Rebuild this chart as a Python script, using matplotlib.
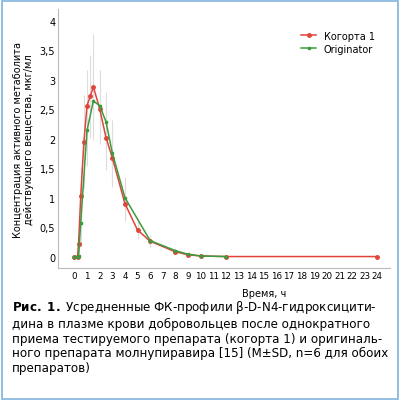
import numpy as np
import matplotlib.pyplot as plt
from matplotlib.patches import Rectangle

t_red = [0, 0.25, 0.33, 0.5, 0.75, 1, 1.25, 1.5, 2, 2.5, 3, 4, 5, 6, 8, 9, 10, 12, 24]
c_red = [0, 0, 0.22, 1.02, 1.94, 2.56, 2.72, 2.88, 2.51, 2.02, 1.68, 0.90, 0.45, 0.26, 0.08, 0.03, 0.01, 0, 0]
sd_red = [0, 0, 0.15, 0.5, 0.8, 0.6, 0.7, 0.9, 0.6, 0.55, 0.5, 0.3, 0.15, 0.08, 0.03, 0.02, 0.01, 0, 0]
t_grn = [0, 0.25, 0.33, 0.5, 1, 1.5, 2, 2.5, 3, 4, 6, 8, 9, 10, 12]
c_grn = [0, 0, 0.01, 0.57, 2.14, 2.64, 2.56, 2.29, 1.76, 1.00, 0.27, 0.10, 0.04, 0.01, 0]
sd_grn = [0, 0, 0.02, 0.4, 0.6, 0.6, 0.6, 0.5, 0.55, 0.35, 0.1, 0.04, 0.02, 0.01, 0]
xticks = list(range(0, 25))
yticks = [0, 0.5, 1, 1.5, 2, 2.5, 3, 3.5, 4]
ylabels = ['0', '0,5', '1', '1,5', '2', '2,5', '3', '3,5', '4']

fig = plt.figure(figsize=(4.0, 4.02), dpi=100)
fig.patches.append(Rectangle((0.005, 0.005), 0.99, 0.99, transform=fig.transFigure,
                             fill=False, edgecolor='#7fb2dd', linewidth=1.2))
ax = fig.add_axes([0.145, 0.33, 0.83, 0.645])

ax.errorbar(t_red, c_red, yerr=sd_red, fmt='none', ecolor='#dddddd', elinewidth=0.8)
ax.errorbar(t_grn, c_grn, yerr=sd_grn, fmt='none', ecolor='#dddddd', elinewidth=0.8)
ax.plot(t_red, c_red, '-o', color='#e0443a', ms=2.5, lw=1.1, label='Когорта 1')
ax.plot(t_grn, c_grn, '-s', color='#3d9a3d', ms=2, lw=1.1, label='Originator')

ax.set_xlim(-1.3, 25)
ax.set_ylim(-0.2, 4.2)
ax.set_xticks(xticks)
ax.set_xticklabels([str(x) for x in xticks], fontsize=6.3, family='Liberation Sans Narrow')
ax.set_yticks(yticks)
ax.set_yticklabels(ylabels, fontsize=7)
ax.tick_params(length=0, pad=2)
for s in ['top', 'right']:
    ax.spines[s].set_visible(False)
for s in ['left', 'bottom']:
    ax.spines[s].set_color('#bbbbbb')
ax.set_xlabel('Время, ч', fontsize=7, labelpad=3)
ax.xaxis.set_label_coords(0.62, -0.075)
ax.set_ylabel('Концентрация активного метаболита\nдействующего вещества, мкг/мл',
              fontsize=7, linespacing=1.1)
ax.legend(loc='upper right', bbox_to_anchor=(0.98, 0.95), frameon=False, fontsize=7,
          handlelength=1.5, labelspacing=0.3)

fig.text(0.03, 0.255, r'$\bf{Рис.\ 1.}$ Усредненные ФК-профили β-D-N4-гидроксицити-'
         '\nдина в плазме крови добровольцев после однократного'
         '\nприема тестируемого препарата (когорта 1) и оригиналь-'
         '\nного препарата молнупиравира [15] (M±SD, n=6 для обоих'
         '\nпрепаратов)', fontsize=8.6, va='top', linespacing=1.15)

fig.savefig('out.png', dpi=100)
